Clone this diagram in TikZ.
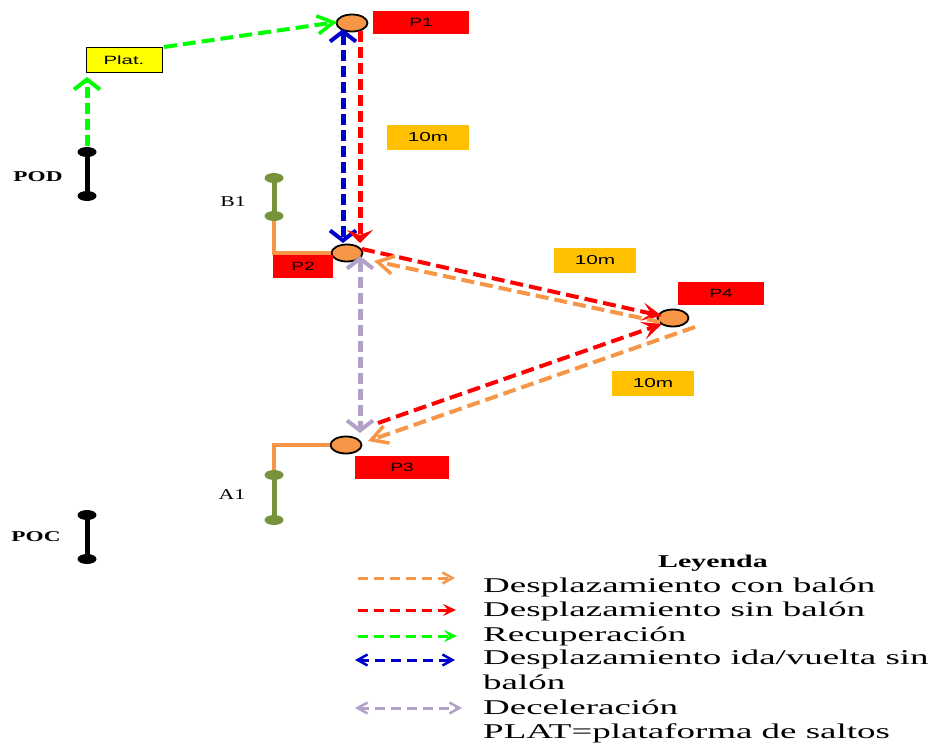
\documentclass[tikz,border=0pt]{standalone}
\usepackage{fontspec}
\setmainfont{Liberation Serif}
\newfontfamily\sansf{Liberation Sans}
\usetikzlibrary{arrows.meta,shapes.geometric}
% horizontally widened text
\newcommand{\wide}[2][1.6]{\scalebox{#1}[1]{#2}}
\definecolor{ballorange}{HTML}{F79646}
\definecolor{tagred}{HTML}{FF0000}
\definecolor{runred}{HTML}{FF0000}
\definecolor{recgreen}{HTML}{00FF00}
\definecolor{tripblue}{HTML}{0000CC}
\definecolor{lavender}{HTML}{B3A2C7}
\definecolor{olive}{HTML}{77933C}
\definecolor{gold}{HTML}{FFC000}
\definecolor{platyellow}{HTML}{FFFF00}
\tikzset{
  spot/.style={ellipse, draw=black, line width=1.8pt, fill=ballorange,
    minimum width=31pt, minimum height=17pt, inner sep=0pt},
  tag/.style={fill=tagred, inner sep=0pt, minimum height=23pt,
    font=\sansf\fontsize{12}{12}\selectfont},
  dist/.style={fill=gold, inner sep=0pt, minimum width=82pt, minimum height=25pt,
    font=\sansf\fontsize{13}{13}\selectfont},
  poledot/.style={ellipse, inner sep=0pt, minimum width=19pt, minimum height=10pt},
  pole/.style={line width=5pt},
  label/.style={inner sep=0pt, font=\fontsize{15}{15}\selectfont},
  vdash/.style={line width=5pt, dash pattern=on 11pt off 5pt},
  hdash/.style={line width=4pt, dash pattern=on 13pt off 6pt},
  % arrow tips: vertical runs get wide heads, flat runs get long heads
  vbarb/.style={-{Straight Barb[length=10pt,width=26pt,line width=4pt]}},
  vdbarb/.style={{Straight Barb[length=10pt,width=26pt,line width=4pt]}-{Straight Barb[length=10pt,width=26pt,line width=4pt]}},
  vstealth/.style={-{Stealth[length=13pt,width=26pt,inset=5pt]}},
  hbarb/.style={-{Straight Barb[length=16pt,width=18pt,line width=3.5pt]}},
  hstealth/.style={-{Stealth[length=20pt,width=18pt,inset=9pt]}},
  keyline/.style={line width=3pt, dash pattern=on 10pt off 6pt},
  keybarb/.style={-{Straight Barb[length=10pt,width=11pt,line width=2.5pt]}},
  keystealth/.style={-{Stealth[length=13pt,width=12pt,inset=5pt]}},
  keydbarb/.style={{Straight Barb[length=10pt,width=11pt,line width=2.5pt]}-{Straight Barb[length=10pt,width=11pt,line width=2.5pt]}},
  keytext/.style={anchor=base west, inner sep=0pt, font=\fontsize{21}{21}\selectfont},
  link/.style={line width=4pt, ballorange}
}
\begin{document}
\begin{tikzpicture}[x=1pt,y=-1pt]
\useasboundingbox (0,0) rectangle (932,744);
\fill[white] (0,0) rectangle (932,744);

% ---- poles ----
\node[poledot, fill=black] (podT) at (87,152) {};
\node[poledot, fill=black] (podB) at (87,196) {};
\draw[pole, black] (podT.center) -- (podB.center);
\node[label, font=\bfseries\fontsize{15}{15}\selectfont] (podL) at (38,177) {\wide[1.55]{POD}};

\node[poledot, fill=black] (pocT) at (87,515) {};
\node[poledot, fill=black] (pocB) at (87,559) {};
\draw[pole, black] (pocT.center) -- (pocB.center);
\node[label, font=\bfseries\fontsize{15}{15}\selectfont] (pocL) at (36,537) {\wide[1.55]{POC}};

\node[label] (b1L) at (233,202) {\wide[1.45]{B1}};
\node[label] (a1L) at (232,495) {\wide[1.45]{A1}};

% ---- orange links from posts to points ----
\node[spot] (p2) at (347,253) {};
\node[spot] (p3) at (346,445) {};
\coordinate (b1foot) at (274,216);
\coordinate (a1head) at (274,475);
\draw[link] (b1foot) |- (p2.west);
\draw[link] (a1head) |- (p3.west);

\node[poledot, fill=olive] (b1T) at (274,178) {};
\node[poledot, fill=olive] (b1B) at (274,216) {};
\draw[pole, olive] (b1T.center) -- (b1B.center);
\node[poledot, fill=olive] (a1T) at (274,475) {};
\node[poledot, fill=olive] (a1B) at (274,520) {};
\draw[pole, olive] (a1T.center) -- (a1B.center);

% ---- points ----
\node[spot] (p1) at (352,23) {};
\node[spot] (p4) at (673,318) {};

\node[tag, minimum width=96pt] (t1) at (421,22.5) {\wide{P1}};
\node[tag, minimum width=60pt] (t2) at (303,266.5) {\wide{P2}};
\node[tag, minimum width=94pt] (t3) at (402,467) {\wide{P3}};
\node[tag, minimum width=86pt] (t4) at (721,293) {\wide{P4}};

\node[dist] (d1) at (428,137) {\wide{10m}};
\node[dist] (d2) at (595,260) {\wide{10m}};
\node[dist] (d3) at (653,383) {\wide{10m}};

\node[draw=black, line width=1pt, fill=platyellow, minimum width=76pt, minimum height=25pt,
  inner sep=0pt, font=\sansf\fontsize{12}{12}\selectfont] (plat) at (124,60) {\wide[1.7]{Plat.}};

% ---- movement paths ----
\coordinate (g0) at (87,146);
\coordinate (g1) at (87,77);
\coordinate (g2) at (164,47);
\coordinate (g3) at (337,22);
\draw[vdash, recgreen, vbarb] (g0) -- (g1);
\draw[hdash, recgreen, hbarb] (g2) -- (g3);

\coordinate (bl0) at (343,29);
\coordinate (bl1) at (343,243);
\draw[vdash, tripblue, vdbarb] (bl0) -- (bl1);

\coordinate (r0) at (360,31);
\coordinate (r1) at (360,243);
\draw[vdash, runred, vstealth] (r0) -- (r1);

\coordinate (r2) at (362,249);
\coordinate (r3) at (662,316);
\draw[hdash, runred, hstealth] (r2) -- (r3);

\coordinate (o0) at (660,322);
\coordinate (o1) at (374,261);
\draw[hdash, ballorange, hbarb] (o0) -- (o1);

\coordinate (r4) at (378,423);
\coordinate (r5) at (662,324);
\draw[hdash, runred, hstealth] (r4) -- (r5);

\coordinate (o2) at (695,327);
\coordinate (o3) at (368,441);
\draw[hdash, ballorange, hbarb] (o2) -- (o3);

\coordinate (l0) at (360,256);
\coordinate (l1) at (360,433);
\draw[vdash, lavender, vdbarb] (l0) -- (l1);

% ---- legend ----
\node[keytext, font=\bfseries\fontsize{18}{18}\selectfont] (keyhead) at (658,567) {\wide[1.66]{Leyenda}};

\coordinate (k1a) at (358,578); \coordinate (k1b) at (455,578);
\coordinate (k2a) at (358,610); \coordinate (k2b) at (456,610);
\coordinate (k3a) at (358,636); \coordinate (k3b) at (457,636);
\coordinate (k4a) at (355,660); \coordinate (k4b) at (455,660);
\coordinate (k5a) at (355,708); \coordinate (k5b) at (462,708);
\draw[keyline, ballorange, keybarb] (k1a) -- (k1b);
\draw[keyline, runred, keystealth] (k2a) -- (k2b);
\draw[keyline, recgreen, keystealth] (k3a) -- (k3b);
\draw[keyline, tripblue, keydbarb] (k4a) -- (k4b);
\draw[keyline, lavender, keydbarb] (k5a) -- (k5b);

\node[keytext] (kt1) at (483,592) {\wide[1.76]{Desplazamiento con balón}};
\node[keytext] (kt2) at (483,616) {\wide[1.76]{Desplazamiento sin balón}};
\node[keytext] (kt3) at (483,641) {\wide[1.76]{Recuperación}};
\node[keytext] (kt4) at (483,664) {\wide[1.76]{Desplazamiento ida/vuelta sin}};
\node[keytext] (kt5) at (483,689) {\wide[1.76]{balón}};
\node[keytext] (kt6) at (483,714) {\wide[1.76]{Deceleración}};
\node[keytext] (kt7) at (483,738) {\wide[1.76]{PLAT=plataforma de saltos}};
\end{tikzpicture}
\end{document}
